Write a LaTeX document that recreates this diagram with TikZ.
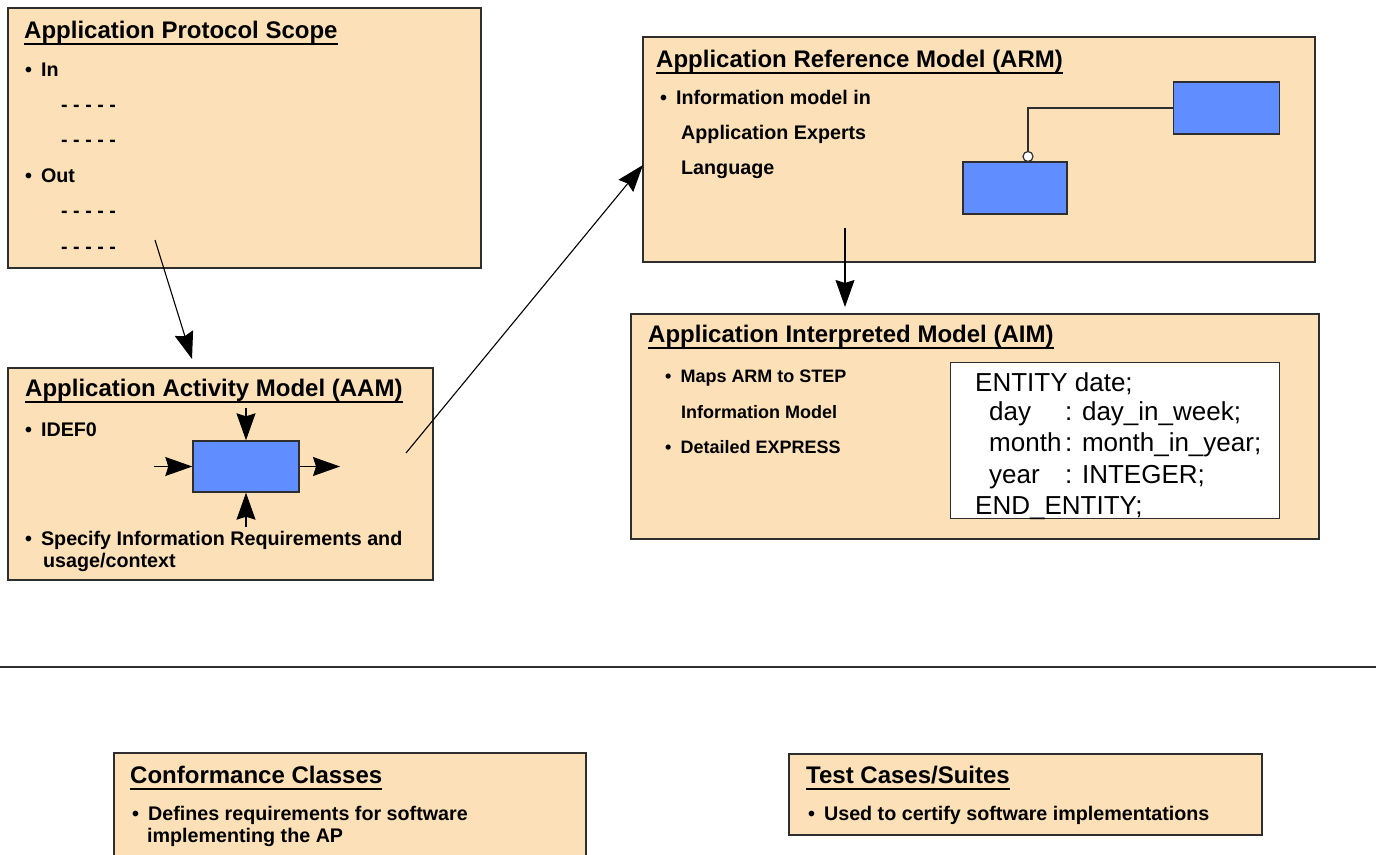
\documentclass[tikz,border=0pt]{standalone}
\usepackage{fontspec}
\setmainfont{Liberation Sans}
\usepackage{tikz}
\usetikzlibrary{arrows.meta}
\definecolor{peach}{HTML}{FCE1B8}
\definecolor{entblue}{HTML}{608DFF}
\definecolor{edge}{HTML}{2E2E2E}
\newsavebox\hdbox
\newcommand{\hdline}[1]{\sbox\hdbox{#1}\rlap{\rule[-6.5pt]{\wd\hdbox}{2pt}}\usebox\hdbox}
\newcommand{\bul}{\textbullet\hspace{9pt}}

\begin{document}
\begin{tikzpicture}[x=1pt,y=-1pt,
  panel/.style={draw=edge,fill=peach,line width=1.6pt,anchor=north west,inner sep=0pt},
  entity/.style={draw=edge,fill=entblue,line width=1.4pt,inner sep=0pt},
  title/.style={anchor=base west,inner sep=0pt,font=\fontsize{24}{28}\selectfont\bfseries},
  body/.style={anchor=base west,inner sep=0pt,font=\fontsize{19.7}{23}\selectfont\bfseries},
  bodysm/.style={body,font=\fontsize{18}{21}\selectfont\bfseries},
  code/.style={anchor=base west,inner sep=0pt,font=\fontsize{26}{30}\selectfont},
  flow/.style={-{Stealth[length=27pt,width=19pt,inset=3pt]},line width=1.1pt}]
  \useasboundingbox (0,0) rectangle (1376,854);
  \clip (0,0) rectangle (1376,854);

  % scope
  \node[panel,minimum width=473pt,minimum height=260pt] (scope) at (7,7) {};
  \node[title] (scope-h) at (24,38) {\hdline{Application Protocol Scope}};
  \node[body] (scope-in) at (25,76) {\bul In};
  \node[body] (scope-in1) at (61,111.4) {- - - - -};
  \node[body] (scope-in2) at (61,146.8) {- - - - -};
  \node[body] (scope-out) at (25,182.2) {\bul Out};
  \node[body] (scope-out1) at (61,217.6) {- - - - -};
  \node[body] (scope-out2) at (61,253) {- - - - -};

  % activity model
  \node[panel,minimum width=425pt,minimum height=212pt] (aam) at (7,367) {};
  \node[title] (aam-h) at (25,396) {\hdline{Application Activity Model (AAM)}};
  \node[body] (aam-1) at (25,436) {\bul IDEF0};
  \node[body] (aam-2) at (25,545) {\bul Specify Information Requirements and};
  \node[body] (aam-3) at (43,567) {usage/context};
  \node[entity,minimum width=106pt,minimum height=51pt] (func) at (246,466.5) {};
  \coordinate (ctl) at (246,408);
  \coordinate (inp) at (154,466.5);
  \coordinate (outp) at (340,466.5);
  \coordinate (mech) at (246,527);
  \draw[flow] (ctl) -- (func.north);
  \draw[flow] (inp) -- (func.west);
  \draw[flow] (func.east) -- (outp);
  \draw[flow] (mech) -- (func.south);

  % reference model
  \node[panel,minimum width=672pt,minimum height=225pt] (arm) at (642,36) {};
  \node[title] (arm-h) at (656,67) {\hdline{Application Reference Model (ARM)}};
  \node[body] (arm-1) at (660,104) {\bul Information model in};
  \node[body] (arm-2) at (681,139) {Application Experts};
  \node[body] (arm-3) at (681,174) {Language};
  \node[entity,minimum width=106pt,minimum height=52pt] (ent-a) at (1226.5,108) {};
  \node[entity,minimum width=104pt,minimum height=52pt] (ent-b) at (1015,188) {};
  \node[draw=edge,fill=white,circle,inner sep=0pt,minimum size=10pt,line width=1.2pt] (ring) at (1028,156.5) {};
  \draw[edge,line width=1.2pt] (ent-a.west) -| (ring.north);

  % interpreted model
  \node[panel,minimum width=688pt,minimum height=225pt] (aim) at (630,313) {};
  \node[title] (aim-h) at (648,342) {\hdline{Application Interpreted Model (AIM)}};
  \node[bodysm] (aim-1) at (665,382) {\bul Maps ARM to STEP};
  \node[bodysm] (aim-2) at (681,418) {Information Model};
  \node[bodysm] (aim-3) at (665,453) {\bul Detailed EXPRESS};
  \node[draw=edge,fill=white,line width=1.3pt,minimum width=329pt,minimum height=156pt,anchor=north west,inner sep=0pt] (express) at (950,362) {};
  \node[code] (ex-1) at (975,391) {ENTITY date;};
  \node[code] (ex-2) at (989,420) {\makebox[76pt][l]{day}: day\_in\_week;};
  \node[code] (ex-3) at (989,451) {\makebox[76pt][l]{month}: month\_in\_year;};
  \node[code] (ex-4) at (989,483) {\makebox[76pt][l]{year}: INTEGER;};
  \node[code] (ex-5) at (975,514) {END\_ENTITY;};

  % flow between the models
  \coordinate (a1) at (155,240);
  \coordinate (a2) at (192,359);
  \draw[flow] (a1) -- (a2);
  \coordinate (b1) at (406,453);
  \coordinate (b2) at (643,165);
  \draw[flow] (b1) -- (b2);
  \coordinate (c1) at (845,228);
  \coordinate (c2) at (845,307);
  \draw[flow] (c1) -- (c2);

  \draw[edge,line width=2pt] (0,667) -- (1376,667);

  % conformance and tests
  \node[panel,minimum width=472pt,minimum height=130pt] (conf) at (113,752) {};
  \node[title] (conf-h) at (130,783) {\hdline{Conformance Classes}};
  \node[body] (conf-1) at (132,820) {\bul Defines requirements for software};
  \node[body] (conf-2) at (147,842) {implementing the AP};
  \node[panel,minimum width=473pt,minimum height=81pt] (tests) at (788,753) {};
  \node[title] (tests-h) at (806,783) {\hdline{Test Cases/Suites}};
  \node[body] (tests-1) at (808,820) {\bul Used to certify software implementations};
\end{tikzpicture}
\end{document}
